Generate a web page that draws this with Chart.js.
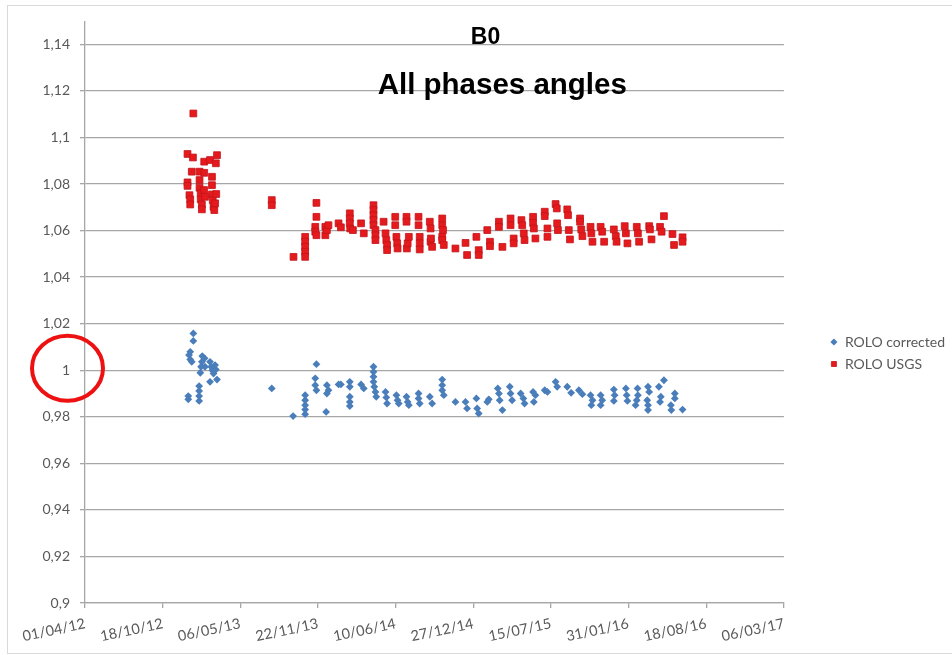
<!DOCTYPE html>
<html><head><meta charset="utf-8">
<script src="https://cdn.jsdelivr.net/npm/chart.js@4.4.1/dist/chart.umd.min.js"></script>
<style>html,body{margin:0;padding:0;background:#fff;}#wrap{width:952px;height:655px;}</style>
</head><body><div id="wrap"><canvas id="c" width="952" height="655"></canvas></div>
<script>
// x values are days counted from 01/04/12
const xTickLabels = ['01/04/12','18/10/12','06/05/13','22/11/13','10/06/14','27/12/14','15/07/15','31/01/16','18/08/16','06/03/17'];
const yTickLabels = ['0,9','0,92','0,94','0,96','0,98','1','1,02','1,04','1,06','1,08','1,1','1,12','1,14'];
const seriesNames = ['ROLO corrected','ROLO USGS'];
const chartTitles = ['B0','All phases angles'];

const roloCorrected = [
[266,0.9889],[266,0.9875],[268,1.0065],[271,1.0079],[271,1.0046],[275,1.0036],[279,1.0158],[279,1.0126],
[294,0.9932],[294,0.9911],[294,0.9889],[294,0.9868],[297,0.9989],[299,1.0015],[301,1.0036],[302,1.0061],
[308,1.0051],[309,1.0015],[322,1.0036],[322,0.9950],[325,1.0015],[328,1.0000],[331,0.9986],
[335,1.0022],[337,1.0003],[340,0.9960],
[481,0.9922],
[536,0.9803],[567,0.9893],[567,0.9871],[567,0.9850],[567,0.9831],[567,0.9811],
[593,0.9965],[593,0.9936],[596,1.0026],[596,0.9914],
[621,0.9821],[623,0.9936],[623,0.9900],[627,0.9914],
[653,0.9939],[659,0.9939],
[682,0.9950],[682,0.9929],[682,0.9886],[682,0.9864],[682,0.9846],
[711,0.9939],[718,0.9922],
[743,1.0015],[743,0.9993],[743,0.9972],[743,0.9950],[745,0.9929],[748,0.9907],[750,0.9886],
[774,0.9907],[776,0.9883],[778,0.9857],
[802,0.9893],[805,0.9871],[808,0.9857],
[828,0.9886],[831,0.9864],[834,0.9850],
[859,0.9900],[859,0.9879],[862,0.9857],
[888,0.9886],[894,0.9857],
[920,0.9960],[920,0.9936],[920,0.9914],[924,0.9893],
[954,0.9864],[980,0.9864],[984,0.9836],[1008,0.9879],[1010,0.9836],[1014,0.9814],
[1036,0.9864],[1040,0.9875],
[1063,0.9922],[1066,0.9900],[1068,0.9871],[1075,0.9829],
[1094,0.9929],[1096,0.9900],[1100,0.9871],
[1122,0.9900],[1129,0.9879],[1132,0.9857],
[1154,0.9907],[1156,0.9864],[1160,0.9893],
[1184,0.9914],[1191,0.9907],
[1212,0.9950],[1216,0.9929],
[1242,0.9929],[1252,0.9903],
[1272,0.9914],[1281,0.9897],
[1302,0.9893],[1304,0.9850],[1307,0.9871],
[1328,0.9893],[1328,0.9850],[1332,0.9871],
[1362,0.9917],[1362,0.9868],[1364,0.9893],
[1393,0.9922],[1395,0.9893],[1397,0.9868],
[1418,0.9850],[1421,0.9871],[1423,0.9922],[1424,0.9893],
[1448,0.9871],[1450,0.9929],[1450,0.9850],[1450,0.9829],[1453,0.9907],
[1478,0.9929],[1481,0.9864],[1483,0.9886],[1491,0.9957],
[1509,0.9850],[1510,0.9829],[1519,0.9900],[1519,0.9879],
[1539,0.9831]
];

const roloUsgs = [
[264,1.0929],[264,1.0807],[264,1.0792],[269,1.0752],[271,1.0734],[271,1.0712],[275,1.0853],[278,1.0914],[279,1.1103],
[295,1.0853],[295,1.0817],[295,1.0784],[298,1.0760],[298,1.0734],[301,1.0712],[301,1.0691],
[307,1.0896],[307,1.0848],[307,1.0774],[309,1.0745],
[322,1.0903],[327,1.0831],[327,1.0795],[327,1.0755],[329,1.0731],[331,1.0702],[333,1.0688],
[335,1.0717],[337,1.0889],[338,1.0757],[340,1.0924],
[481,1.0731],[481,1.0709],
[537,1.0487],[567,1.0573],[567,1.0552],[567,1.0530],[567,1.0509],[567,1.0487],
[593,1.0616],[593,1.0595],[596,1.0719],[596,1.0659],[596,1.0580],
[619,1.0616],[619,1.0580],[623,1.0602],[627,1.0623],
[653,1.0631],[659,1.0614],
[682,1.0674],[682,1.0652],[682,1.0631],[683,1.0609],[690,1.0602],
[711,1.0631],[718,1.0588],
[743,1.0709],[743,1.0688],[743,1.0666],[743,1.0645],[743,1.0623],[748,1.0602],[748,1.0580],[748,1.0559],
[769,1.0638],[774,1.0588],[776,1.0559],[778,1.0538],[778,1.0516],
[799,1.0659],[799,1.0623],[802,1.0573],[804,1.0545],[805,1.0523],
[828,1.0659],[828,1.0638],[829,1.0523],[831,1.0545],[834,1.0573],
[859,1.0659],[859,1.0623],[862,1.0573],[862,1.0545],[862,1.0519],
[888,1.0638],[890,1.0609],[890,1.0552],[891,1.0566],[894,1.0530],
[920,1.0652],[920,1.0623],[920,1.0573],[920,1.0559],[922,1.0602],[924,1.0538],
[954,1.0523],[980,1.0547],[984,1.0495],[1008,1.0573],[1014,1.0516],[1014,1.0495],
[1036,1.0602],[1043,1.0552],[1043,1.0533],
[1066,1.0638],[1066,1.0616],[1075,1.0530],
[1096,1.0652],[1096,1.0623],[1104,1.0566],[1104,1.0545],
[1124,1.0645],[1126,1.0623],[1130,1.0588],[1132,1.0559],
[1154,1.0659],[1154,1.0633],[1156,1.0609],[1160,1.0566],
[1184,1.0681],[1184,1.0662],[1191,1.0609],[1191,1.0573],
[1212,1.0714],[1215,1.0695],[1216,1.0631],[1218,1.0602],
[1242,1.0691],[1244,1.0666],[1246,1.0602],[1249,1.0562],
[1275,1.0652],[1275,1.0638],[1278,1.0605],[1281,1.0576],
[1302,1.0616],[1304,1.0588],[1307,1.0552],
[1328,1.0616],[1332,1.0595],[1337,1.0552],
[1362,1.0605],[1367,1.0576],[1369,1.0552],
[1390,1.0619],[1393,1.0588],[1397,1.0545],
[1421,1.0616],[1424,1.0588],[1427,1.0552],
[1453,1.0619],[1455,1.0605],[1459,1.0562],
[1481,1.0616],[1485,1.0595],[1491,1.0662],
[1513,1.0585],[1517,1.0538],
[1539,1.0571],[1539,1.0552]
];

const toPoints = arr => arr.map(p => ({x: p[0], y: p[1]}));
const GRID = '#a6a6a6';
const TXT = '#595959';

const framePlugin = {
  id: 'frame',
  beforeDraw(chart) {
    const ctx = chart.ctx;
    ctx.save();
    ctx.fillStyle = '#ffffff';
    ctx.fillRect(0, 0, chart.width, chart.height);
    ctx.strokeStyle = '#d9d9d9';
    ctx.lineWidth = 1;
    ctx.strokeRect(7.5, 5.5, chart.width + 20, chart.height - 7);
    ctx.restore();
  }
};

const legendNudge = {
  id: 'legendNudge',
  afterLayout(chart) {
    const lg = chart.legend;
    if (!lg) return;
    lg.left += 38; lg.right += 38;
    lg.top += 14.5; lg.bottom += 14.5;
  }
};

const annotPlugin = {
  id: 'annot',
  afterDatasetsDraw(chart) {
    const ctx = chart.ctx, a = chart.chartArea, ys = chart.scales.y;
    ctx.save();
    ctx.fillStyle = '#000';
    ctx.textAlign = 'center';
    ctx.textBaseline = 'alphabetic';
    ctx.font = 'bold 23px "Liberation Sans", Arial, sans-serif';
    ctx.fillText(chartTitles[0], a.left + 0.573 * (a.right - a.left), ys.getPixelForValue(1.14) - 0.5);
    ctx.font = 'bold 29.5px "Liberation Sans", Arial, sans-serif';
    ctx.fillText(chartTitles[1], a.left + 0.597 * (a.right - a.left), ys.getPixelForValue(1.12) + 3);
    // red circle around the 1 label
    ctx.strokeStyle = '#ee1111';
    ctx.lineWidth = 4;
    ctx.beginPath();
    ctx.ellipse(a.left - 17.5, ys.getPixelForValue(1) - 2, 35.5, 32.5, 0, 0, Math.PI * 2);
    ctx.stroke();
    ctx.restore();
  }
};

new Chart(document.getElementById('c'), {
  type: 'scatter',
  data: {
    datasets: [
      {
        label: seriesNames[0],
        data: toPoints(roloCorrected),
        pointStyle: 'rectRot',
        pointRadius: 3.9,
        pointHoverRadius: 3.9,
        backgroundColor: '#4a7ebb',
        borderColor: '#4a7ebb',
        borderWidth: 0
      },
      {
        label: seriesNames[1],
        data: toPoints(roloUsgs),
        pointStyle: 'rect',
        pointRadius: 4.8,
        pointHoverRadius: 4.8,
        backgroundColor: '#e51a1d',
        borderColor: '#c3141a',
        borderWidth: 0.8
      }
    ]
  },
  options: {
    responsive: false,
    animation: false,
    devicePixelRatio: 1,
    layout: {padding: {top: 22, left: 0, right: 35, bottom: 0}},
    plugins: {
      title: {display: false},
      tooltip: {enabled: false},
      legend: {
        display: true,
        position: 'right',
        align: 'center',
        labels: {
          usePointStyle: true,
          boxWidth: 8,
          boxHeight: 5,
          padding: 8,
          color: TXT,
          font: {family: 'Lato', size: 14}
        }
      }
    },
    scales: {
      x: {
        type: 'linear',
        position: 'bottom',
        min: 0,
        max: 1800,
        afterFit(s) { s.height = 52; },
        ticks: {
          stepSize: 200,
          autoSkip: false,
          minRotation: 12,
          maxRotation: 12,
          padding: 7,
          color: TXT,
          font: {family: 'Lato', size: 14.5},
          callback: (v, i) => xTickLabels[i]
        },
        grid: {drawOnChartArea: false, drawTicks: true, tickLength: 5, color: GRID, lineWidth: 1.3},
        border: {display: true, color: GRID, width: 1.3}
      },
      y: {
        min: 0.9,
        max: 1.1496,
        afterFit(s) { s.width = 85; },
        ticks: {
          stepSize: 0.02,
          includeBounds: false,
          padding: 10,
          color: TXT,
          font: {family: 'Lato', size: 14},
          callback: (v, i) => yTickLabels[i]
        },
        grid: {color: GRID, lineWidth: 1.3, tickLength: 5, drawTicks: true},
        border: {display: true, color: GRID, width: 1.3}
      }
    }
  },
  plugins: [framePlugin, legendNudge, annotPlugin]
});
</script>
</body></html>
